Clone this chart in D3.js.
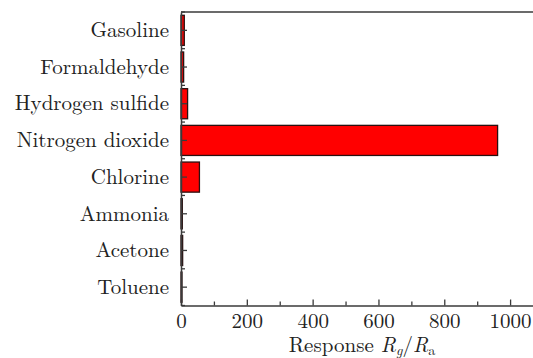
<!DOCTYPE html>
<html>
<head>
<meta charset="utf-8">
<script src="https://cdn.jsdelivr.net/npm/d3@7"></script>
<style>
  html, body { margin: 0; padding: 0; background: #fff; }
  svg { display: block; }
</style>
</head>
<body>
<svg id="chart" width="533" height="358"></svg>
<script>
// Gas species, top to bottom
const gases = ["Gasoline", "Formaldehyde", "Hydrogen sulfide", "Nitrogen dioxide",
               "Chlorine", "Ammonia", "Acetone", "Toluene"];
// Response Rg/Ra for each gas
const responses = [10, 8, 20, 962, 56, 4, 5, 3];
// Axis ticks
const majorTicks = [0, 200, 400, 600, 800, 1000];
const minorTicks = [100, 300, 500, 700, 900, 1100];

const FONT = "'Latin Modern Roman', 'CMU Serif', 'Liberation Serif', serif";
const FS = "21px";

const svg = d3.select("#chart");
const margin = { left: 181, top: 12, right: 543, bottom: 305.5 };
const axisColor = "#3a3a3a";

const x = d3.scaleLinear().domain([0, 1100]).range([margin.left, margin.right]);
const y = d3.scaleBand().domain(gases).range([margin.top, margin.bottom])
  .paddingInner(0.18).paddingOuter(0.09);

// Bars
svg.append("g").selectAll("rect")
  .data(gases.map((g, i) => ({ gas: g, value: responses[i] })))
  .join("rect")
  .attr("x", x(0))
  .attr("y", d => y(d.gas))
  .attr("width", d => x(d.value) - x(0))
  .attr("height", y.bandwidth())
  .attr("fill", "#ff0000")
  .attr("stroke", "#2a1010")
  .attr("stroke-width", 1.3);

// Top frame line
svg.append("line")
  .attr("x1", margin.left).attr("x2", 533)
  .attr("y1", margin.top).attr("y2", margin.top)
  .attr("stroke", axisColor).attr("stroke-width", 1.5);

// Bottom axis: major ticks with labels, minor ticks without
const xAxis = svg.append("g")
  .attr("transform", `translate(0,${margin.bottom})`)
  .call(d3.axisBottom(x).tickValues(majorTicks).tickFormat(d3.format("d"))
    .tickSizeInner(-6).tickSizeOuter(0).tickPadding(8));
xAxis.select(".domain").attr("stroke", axisColor).attr("stroke-width", 1.5);
xAxis.selectAll(".tick line").attr("stroke", axisColor).attr("stroke-width", 1.3);
xAxis.selectAll("text").style("font-family", FONT).style("font-size", FS).attr("fill", "#222");

const xMinor = svg.append("g")
  .attr("transform", `translate(0,${margin.bottom})`)
  .call(d3.axisBottom(x).tickValues(minorTicks).tickFormat("")
    .tickSizeInner(-4).tickSizeOuter(0));
xMinor.select(".domain").remove();
xMinor.selectAll(".tick line").attr("stroke", axisColor).attr("stroke-width", 1.3);

// Left axis: category labels at band centres
const yAxis = svg.append("g")
  .attr("transform", `translate(${margin.left},0)`)
  .call(d3.axisLeft(y).tickSizeInner(-6).tickSizeOuter(0).tickPadding(12));
yAxis.select(".domain").attr("stroke", axisColor).attr("stroke-width", 1.5);
yAxis.selectAll(".tick line").attr("stroke", axisColor).attr("stroke-width", 1.3);
yAxis.selectAll("text").style("font-family", FONT).style("font-size", FS).attr("fill", "#222");

// Short ticks on band boundaries
const gap = y.step() * y.paddingInner() / 2;
const boundaries = gases.map(g => y(g) - gap).concat([y(gases[gases.length - 1]) + y.bandwidth() + gap]);
svg.append("g").selectAll("line")
  .data(boundaries)
  .join("line")
  .attr("x1", margin.left).attr("x2", margin.left + 4)
  .attr("y1", d => d).attr("y2", d => d)
  .attr("stroke", axisColor).attr("stroke-width", 1.3);

// Axis title
const title = svg.append("text")
  .attr("x", (margin.left + margin.right) / 2)
  .attr("y", 352)
  .attr("text-anchor", "middle")
  .attr("fill", "#222")
  .style("font-family", FONT)
  .style("font-size", FS);
title.append("tspan").text("Response ");
title.append("tspan").attr("font-style", "italic").text("R");
title.append("tspan").attr("font-style", "italic").style("font-size", "14px").attr("dy", 2.5).text("g");
title.append("tspan").attr("dy", -2.5).text("/");
title.append("tspan").attr("font-style", "italic").text("R");
title.append("tspan").style("font-size", "14px").attr("dy", 2.5).text("a");
</script>
</body>
</html>
